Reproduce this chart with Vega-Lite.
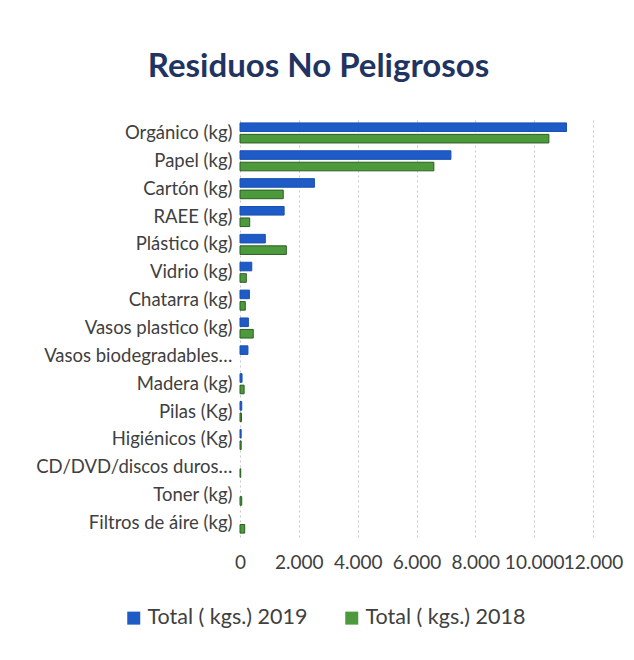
{
  "$schema": "https://vega.github.io/schema/vega-lite/v6.json",
  "width": 353,
  "height": 418,
  "autosize": {"type": "none"},
  "padding": {"left": 240, "top": 119, "right": 41, "bottom": 123},
  "background": "white",
  "config": {"font": "Lato", "view": {"stroke": null}},
  "title": {
    "text": "Residuos No Peligrosos",
    "font": "Lato",
    "fontSize": 33,
    "fontWeight": "bold",
    "color": "#1f3462",
    "anchor": "middle",
    "dx": -98,
    "offset": 35
  },
  "data": {
    "values": [
      {"categoria": "Orgánico (kg)", "serie": "Total ( kgs.) 2019", "kg": 11100},
      {"categoria": "Orgánico (kg)", "serie": "Total ( kgs.) 2018", "kg": 10500},
      {"categoria": "Papel (kg)", "serie": "Total ( kgs.) 2019", "kg": 7170},
      {"categoria": "Papel (kg)", "serie": "Total ( kgs.) 2018", "kg": 6590},
      {"categoria": "Cartón (kg)", "serie": "Total ( kgs.) 2019", "kg": 2530},
      {"categoria": "Cartón (kg)", "serie": "Total ( kgs.) 2018", "kg": 1470},
      {"categoria": "RAEE (kg)", "serie": "Total ( kgs.) 2019", "kg": 1500},
      {"categoria": "RAEE (kg)", "serie": "Total ( kgs.) 2018", "kg": 330},
      {"categoria": "Plástico (kg)", "serie": "Total ( kgs.) 2019", "kg": 860},
      {"categoria": "Plástico (kg)", "serie": "Total ( kgs.) 2018", "kg": 1575},
      {"categoria": "Vidrio (kg)", "serie": "Total ( kgs.) 2019", "kg": 400},
      {"categoria": "Vidrio (kg)", "serie": "Total ( kgs.) 2018", "kg": 215},
      {"categoria": "Chatarra (kg)", "serie": "Total ( kgs.) 2019", "kg": 320},
      {"categoria": "Chatarra (kg)", "serie": "Total ( kgs.) 2018", "kg": 180},
      {"categoria": "Vasos plastico (kg)", "serie": "Total ( kgs.) 2019", "kg": 285},
      {"categoria": "Vasos plastico (kg)", "serie": "Total ( kgs.) 2018", "kg": 450},
      {"categoria": "Vasos biodegradables…", "serie": "Total ( kgs.) 2019", "kg": 270},
      {"categoria": "Vasos biodegradables…", "serie": "Total ( kgs.) 2018", "kg": 0},
      {"categoria": "Madera (kg)", "serie": "Total ( kgs.) 2019", "kg": 70},
      {"categoria": "Madera (kg)", "serie": "Total ( kgs.) 2018", "kg": 140},
      {"categoria": "Pilas (Kg)", "serie": "Total ( kgs.) 2019", "kg": 60},
      {"categoria": "Pilas (Kg)", "serie": "Total ( kgs.) 2018", "kg": 50},
      {"categoria": "Higiénicos (Kg)", "serie": "Total ( kgs.) 2019", "kg": 40},
      {"categoria": "Higiénicos (Kg)", "serie": "Total ( kgs.) 2018", "kg": 40},
      {"categoria": "CD/DVD/discos duros…", "serie": "Total ( kgs.) 2019", "kg": 0},
      {"categoria": "CD/DVD/discos duros…", "serie": "Total ( kgs.) 2018", "kg": 25},
      {"categoria": "Toner (kg)", "serie": "Total ( kgs.) 2019", "kg": 0},
      {"categoria": "Toner (kg)", "serie": "Total ( kgs.) 2018", "kg": 60},
      {"categoria": "Filtros de áire (kg)", "serie": "Total ( kgs.) 2019", "kg": 0},
      {"categoria": "Filtros de áire (kg)", "serie": "Total ( kgs.) 2018", "kg": 160}
    ]
  },
  "mark": {"type": "bar"},
  "encoding": {
    "y": {
      "field": "categoria",
      "type": "nominal",
      "sort": null,
      "scale": {"paddingInner": 0.28, "paddingOuter": 0.14},
      "axis": {
        "title": null,
        "domain": false,
        "ticks": false,
        "labelFontSize": 18.5,
        "labelColor": "#404040",
        "labelPadding": 8,
        "labelLimit": 260
      }
    },
    "yOffset": {
      "field": "serie",
      "sort": ["Total ( kgs.) 2019", "Total ( kgs.) 2018"],
      "scale": {"paddingInner": 0.25}
    },
    "x": {
      "field": "kg",
      "type": "quantitative",
      "scale": {"domain": [0, 12000]},
      "axis": {
        "title": null,
        "values": [0, 2000, 4000, 6000, 8000, 10000, 12000],
        "labelExpr": "replace(format(datum.value, ','), ',', '.')",
        "grid": true,
        "gridDash": [2, 3],
        "gridColor": "#c8c8c8",
        "domain": false,
        "ticks": false,
        "labelFontSize": 19,
        "labelColor": "#404040",
        "labelPadding": 16,
        "labelOverlap": false,
        "labelFlush": false
      }
    },
    "color": {
      "field": "serie",
      "type": "nominal",
      "scale": {"domain": ["Total ( kgs.) 2019", "Total ( kgs.) 2018"], "range": ["#1e5bc6", "#4c9a3c"]},
      "legend": {
        "title": null,
        "orient": "none",
        "legendX": -117,
        "legendY": 488,
        "direction": "horizontal",
        "symbolType": "square",
        "symbolSize": 169,
        "symbolStrokeWidth": 0,
        "labelFontSize": 21.5,
        "labelLimit": 400,
        "labelColor": "#404040",
        "columnPadding": 33,
        "labelOffset": 3
      }
    },
    "stroke": {
      "field": "serie",
      "type": "nominal",
      "scale": {"domain": ["Total ( kgs.) 2019", "Total ( kgs.) 2018"], "range": ["#1a50b0", "#2c5f24"]},
      "legend": null
    },
    "strokeWidth": {
      "condition": {"test": "datum.kg == 0", "value": 0},
      "value": 1
    }
  }
}
